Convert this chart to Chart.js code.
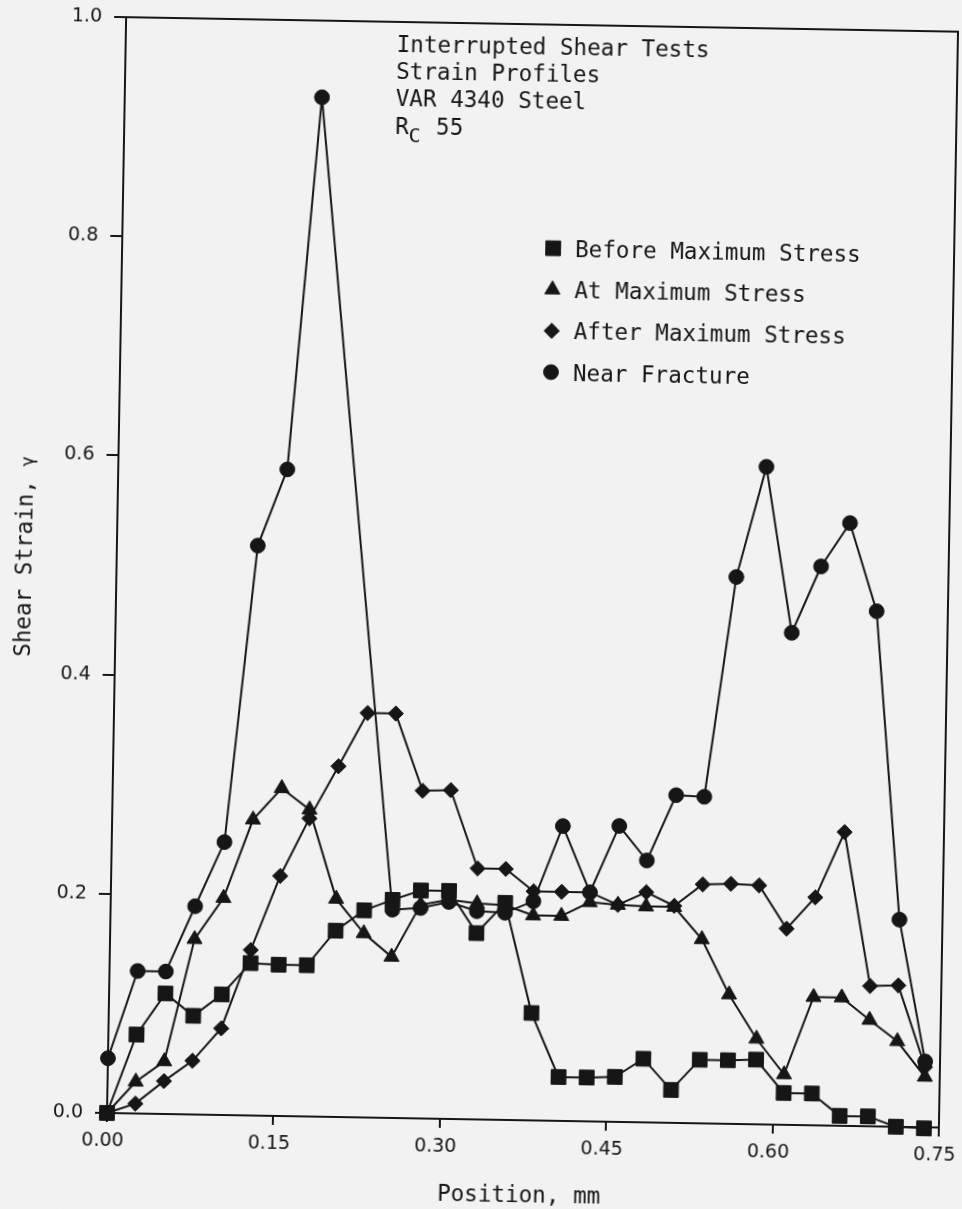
<!DOCTYPE html>
<html>
<head>
<meta charset="utf-8">
<script src="https://cdn.jsdelivr.net/npm/chart.js@4.4.1/dist/chart.umd.min.js"></script>
<style>
  html, body { margin: 0; padding: 0; background: #f2f2f2; overflow: hidden; }
  #wrap { width: 962px; height: 1209px; position: relative; }
  /* the plotted sheet sits about one degree off square */
  #c { display: block; transform: rotate(1deg); transform-origin: 107px 1113px; }
</style>
</head>
<body>
<div id="wrap"><canvas id="c" width="962" height="1209"></canvas></div>
<script>
// Measurement positions across the shear band (mm)
const positions = [0, 0.0254, 0.0508, 0.0762, 0.1016, 0.127, 0.1524, 0.1778, 0.2032, 0.2286,
  0.254, 0.2794, 0.3048, 0.3302, 0.3556, 0.381, 0.4064, 0.4318, 0.4572, 0.4826,
  0.508, 0.5334, 0.5588, 0.5842, 0.6096, 0.635, 0.6604, 0.6858, 0.7112, 0.7366];

// Shear strain at each position for the four interrupted tests
const beforeMax = [0.000, 0.072, 0.110, 0.090, 0.110, 0.139, 0.138, 0.138, 0.170, 0.189,
  0.199, 0.208, 0.208, 0.170, 0.198, 0.098, 0.040, 0.040, 0.041, 0.058,
  0.030, 0.058, 0.058, 0.059, 0.029, 0.029, 0.009, 0.009, 0.000, -0.001];
const atMax = [0.000, 0.029, 0.048, 0.160, 0.198, 0.270, 0.299, 0.280, 0.199, 0.168,
  0.147, 0.195, 0.200, 0.197, 0.196, 0.187, 0.187, 0.200, 0.198, 0.197,
  0.197, 0.168, 0.118, 0.078, 0.046, 0.117, 0.117, 0.097, 0.078, 0.046];
const afterMax = [0.000, 0.009, 0.030, 0.049, 0.079, 0.151, 0.219, 0.272, 0.320, 0.369,
  0.369, 0.299, 0.300, 0.229, 0.229, 0.209, 0.209, 0.209, 0.198, 0.210,
  0.198, 0.218, 0.219, 0.218, 0.179, 0.208, 0.268, 0.128, 0.129, 0.055];
const nearFracture = [0.050, 0.130, 0.130, 0.190, 0.249, 0.520, 0.590, 0.930, null, null,
  0.190, 0.192, 0.198, 0.190, 0.189, 0.200, 0.269, 0.209, 0.270, 0.239,
  0.299, 0.298, 0.499, 0.600, 0.449, 0.510, 0.550, 0.470, 0.189, 0.060];

const xTicks = [0, 0.15, 0.30, 0.45, 0.60, 0.75];
const yTicks = [0, 0.2, 0.4, 0.6, 0.8, 1.0];

const seriesNames = ['Before Maximum Stress', 'At Maximum Stress', 'After Maximum Stress', 'Near Fracture'];
const seriesMarkers = ['rect', 'triangle', 'rectRot', 'circle'];
const markerRadius = [10.4, 8.7, 7.6, 7.4];
const titleLines = ['Interrupted Shear Tests', 'Strain Profiles', 'VAR 4340 Steel'];

const INK = '#161616';
const MONO = '"DejaVu Sans Mono", "Liberation Mono", monospace';

function toPoints(values) {
  return positions.map((x, i) => ({ x: x, y: values[i] }));
}

const seriesValues = [beforeMax, atMax, afterMax, nearFracture];
const datasets = seriesValues.map((vals, i) => ({
  label: seriesNames[i],
  data: toPoints(vals),
  borderColor: INK,
  backgroundColor: INK,
  borderWidth: 2,
  pointStyle: seriesMarkers[i],
  pointRadius: markerRadius[i],
  pointBackgroundColor: INK,
  pointBorderColor: INK,
  pointBorderWidth: 1,
  tension: 0,
  spanGaps: true,
  clip: false
}));

function drawMarker(ctx, style, r, x, y) {
  ctx.save();
  ctx.fillStyle = INK;
  ctx.strokeStyle = INK;
  ctx.lineWidth = 1;
  if (Chart.helpers && Chart.helpers.drawPoint) {
    Chart.helpers.drawPoint(ctx, { pointStyle: style, radius: r, rotation: 0, borderWidth: 1 }, x, y);
  } else {
    ctx.beginPath();
    ctx.arc(x, y, r, 0, Math.PI * 2);
    ctx.fill();
  }
  ctx.restore();
}

const sheetPlugin = {
  id: 'sheet',
  beforeDraw(chart) {
    const ctx = chart.ctx;
    ctx.save();
    ctx.fillStyle = '#f2f2f2';
    ctx.fillRect(0, 0, chart.width, chart.height);
    ctx.restore();
  },
  beforeDatasetsDraw(chart) {
    // close the frame along the top and right edges
    const a = chart.chartArea;
    const ctx = chart.ctx;
    ctx.save();
    ctx.strokeStyle = INK;
    ctx.lineWidth = 2;
    ctx.beginPath();
    ctx.moveTo(a.left, a.top);
    ctx.lineTo(a.right, a.top);
    ctx.lineTo(a.right, a.bottom);
    ctx.stroke();
    ctx.restore();
  },
  afterDraw(chart) {
    const ctx = chart.ctx;
    ctx.save();
    ctx.fillStyle = INK;
    ctx.textBaseline = 'alphabetic';
    ctx.textAlign = 'left';

    // title block
    ctx.font = '22.6px ' + MONO;
    const tx = 378, ty = 46.6, lh = 27.3;
    titleLines.forEach((t, i) => ctx.fillText(t, tx, ty + i * lh));
    const ry = ty + 3 * lh;
    ctx.fillText('R', tx, ry);
    const rw = ctx.measureText('R').width;
    ctx.font = '20px ' + MONO;
    ctx.fillText('C', tx + rw, ry + 8);
    ctx.font = '22.6px ' + MONO;
    ctx.fillText(' 55', tx + rw * 2, ry);

    // legend
    const lx = 538, tx2 = 560, ly0 = 248.6, lstep = 41.3;
    seriesNames.forEach((name, i) => {
      const y = ly0 + i * lstep;
      drawMarker(ctx, seriesMarkers[i], markerRadius[i], lx, y - 8);
      ctx.fillStyle = INK;
      ctx.font = '22.6px ' + MONO;
      ctx.fillText(name, tx2, y);
    });

    // x axis title
    ctx.textAlign = 'center';
    ctx.font = '22.6px ' + MONO;
    ctx.fillText('Position, mm', 520, 1194.5);

    // y axis title
    ctx.save();
    ctx.translate(22, 558);
    ctx.rotate(-Math.PI / 2);
    ctx.textAlign = 'left';
    ctx.font = '22.6px ' + MONO;
    const main = 'Shear Strain, ';
    const mw = ctx.measureText(main).width;
    ctx.font = '17px ' + MONO;
    const gw = ctx.measureText('\u03b3').width;
    const start = -(mw + gw) / 2;
    ctx.font = '22.6px ' + MONO;
    ctx.fillText(main, start, 0);
    ctx.font = '17px ' + MONO;
    ctx.fillText('\u03b3', start + mw, 0);
    ctx.restore();

    ctx.restore();
  }
};

new Chart(document.getElementById('c'), {
  type: 'line',
  data: { datasets: datasets },
  plugins: [sheetPlugin],
  options: {
    responsive: false,
    devicePixelRatio: 1,
    animation: false,
    events: [],
    layout: { padding: { top: 17, right: 23, left: 0, bottom: 0 } },
    plugins: { legend: { display: false }, tooltip: { enabled: false } },
    scales: {
      x: {
        type: 'linear',
        min: 0,
        max: 0.75,
        afterBuildTicks: s => { s.ticks = xTicks.map(v => ({ value: v })); },
        afterFit: s => { s.height = 96; s.paddingLeft = 0; s.paddingRight = 0; },
        ticks: {
          callback: v => Number(v).toFixed(2),
          font: { family: 'DejaVu Sans', size: 19 },
          color: INK,
          padding: 8,
          labelOffset: -4,
          autoSkip: false,
          maxRotation: 0
        },
        grid: { drawOnChartArea: false, drawTicks: true, tickLength: 9, color: INK, lineWidth: 2 },
        border: { display: true, color: INK, width: 2 }
      },
      y: {
        type: 'linear',
        min: 0,
        max: 1,
        afterBuildTicks: s => { s.ticks = yTicks.map(v => ({ value: v })); },
        afterFit: s => { s.width = 107; s.paddingTop = 0; s.paddingBottom = 0; },
        ticks: {
          callback: v => Number(v).toFixed(1),
          font: { family: 'DejaVu Sans', size: 19 },
          color: INK,
          padding: 12
        },
        grid: { drawOnChartArea: false, drawTicks: true, tickLength: 12, color: INK, lineWidth: 2 },
        border: { display: true, color: INK, width: 2 }
      }
    }
  }
});
</script>
</body>
</html>
